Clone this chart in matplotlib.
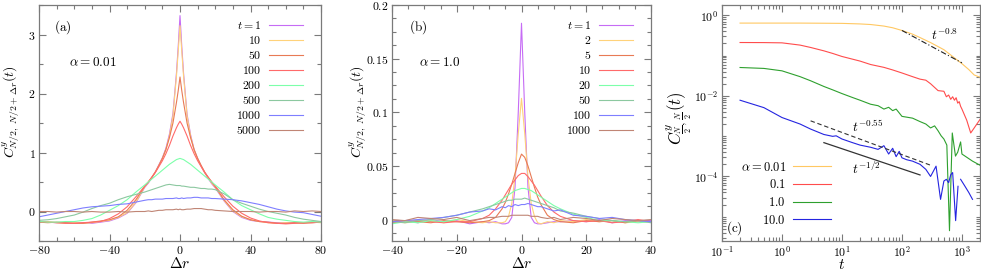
import numpy as np
import matplotlib
matplotlib.use("Agg")
import matplotlib.pyplot as plt
from matplotlib.ticker import FixedLocator, MultipleLocator, FuncFormatter, LogLocator, NullFormatter

plt.rcParams['mathtext.fontset'] = 'cm'
plt.rcParams['font.family'] = 'serif'
plt.rcParams['font.serif'] = ['DejaVu Serif']

# ---------------- panel (a): alpha = 0.01 ----------------
XA = [-80, -75, -70, -65, -60, -55, -50, -45, -40, -35, -30, -25, -20, -18, -16, -14, -12, -10, -8, -6,
      -4, -2, -1, 0, 1, 2, 4, 6, 8, 10, 12, 14, 16, 18, 20, 25, 30, 35, 40, 45, 50, 55, 60, 65, 70, 75, 80]
A_T = ["1", "10", "50", "100", "200", "500", "1000", "5000"]
A_1 = [-0.17, -0.18, -0.19, -0.19, -0.2, -0.19, -0.2, -0.18, -0.16, -0.11, -0.03, 0.15, 0.41, 0.48, 0.57, 0.67,
       0.79, 0.91, 1.07, 1.31, 1.66, 2.35, 2.8, 3.32, 2.8, 2.35, 1.65, 1.3, 1.05, 0.9, 0.77, 0.66, 0.56, 0.47,
       0.4, 0.18, 0.0, -0.1, -0.15, -0.17, -0.18, -0.19, -0.2, -0.19, -0.19, -0.18, -0.18]
A_10 = [-0.18, -0.17, -0.19, -0.2, -0.19, -0.2, -0.19, -0.17, -0.15, -0.1, -0.02, 0.16, 0.42, 0.49, 0.58, 0.67,
        0.78, 0.9, 1.05, 1.28, 1.62, 2.3, 2.72, 3.15, 2.72, 2.3, 1.62, 1.28, 1.04, 0.89, 0.77, 0.66, 0.57, 0.48,
        0.41, 0.19, 0.01, -0.09, -0.14, -0.17, -0.19, -0.2, -0.19, -0.2, -0.19, -0.18, -0.19]
A_50 = [-0.18, -0.19, -0.18, -0.19, -0.2, -0.2, -0.18, -0.16, -0.14, -0.09, 0.02, 0.2, 0.43, 0.5, 0.58, 0.67,
        0.78, 0.9, 1.05, 1.25, 1.5, 1.85, 2.05, 2.28, 2.05, 1.85, 1.5, 1.25, 1.05, 0.9, 0.78, 0.67, 0.58, 0.5,
        0.42, 0.2, 0.03, -0.08, -0.14, -0.17, -0.18, -0.2, -0.2, -0.19, -0.2, -0.19, -0.18]
A_100 = [-0.17, -0.18, -0.19, -0.2, -0.2, -0.19, -0.18, -0.17, -0.12, -0.04, 0.08, 0.25, 0.43, 0.5, 0.58, 0.66,
         0.76, 0.86, 0.98, 1.12, 1.28, 1.42, 1.48, 1.53, 1.48, 1.42, 1.28, 1.12, 0.98, 0.86, 0.76, 0.66, 0.58,
         0.5, 0.43, 0.25, 0.09, -0.03, -0.11, -0.16, -0.19, -0.2, -0.21, -0.2, -0.19, -0.19, -0.18]
A_200 = [-0.17, -0.18, -0.18, -0.17, -0.17, -0.15, -0.12, -0.06, 0.02, 0.1, 0.2, 0.33, 0.45, 0.5, 0.55, 0.6,
         0.65, 0.7, 0.75, 0.8, 0.84, 0.88, 0.89, 0.9, 0.89, 0.88, 0.84, 0.8, 0.75, 0.7, 0.65, 0.6, 0.55, 0.5,
         0.45, 0.33, 0.2, 0.1, 0.03, -0.04, -0.1, -0.13, -0.15, -0.17, -0.18, -0.17, -0.18]
A_500 = [-0.15, -0.14, -0.12, -0.09, -0.06, -0.01, 0.05, 0.1, 0.14, 0.2, 0.25, 0.29, 0.33, 0.35, 0.37, 0.39,
         0.41, 0.43, 0.45, 0.46, 0.45, 0.44, 0.44, 0.44, 0.43, 0.43, 0.42, 0.41, 0.41, 0.4, 0.39, 0.39, 0.38,
         0.38, 0.37, 0.3, 0.2, 0.14, 0.09, 0.04, 0.0, -0.03, -0.06, -0.1, -0.13, -0.15, -0.17]
A_1000 = [-0.09, -0.06, -0.03, 0.0, 0.03, 0.06, 0.08, 0.09, 0.1, 0.12, 0.13, 0.16, 0.19, 0.2, 0.2, 0.21, 0.21,
          0.21, 0.22, 0.22, 0.22, 0.23, 0.22, 0.22, 0.23, 0.22, 0.23, 0.23, 0.24, 0.24, 0.23, 0.23, 0.23, 0.22,
          0.22, 0.21, 0.2, 0.18, 0.15, 0.12, 0.08, 0.04, 0.01, -0.01, -0.02, -0.05, -0.08]
A_5000 = [0.0, 0.0, -0.01, 0.0, 0.0, -0.01, 0.0, -0.01, -0.01, 0.0, -0.01, 0.0, 0.0, 0.01, 0.0, 0.01, 0.02,
          0.02, 0.03, 0.03, 0.03, 0.04, 0.03, 0.04, 0.03, 0.03, 0.04, 0.04, 0.05, 0.05, 0.05, 0.04, 0.03,
          0.03, 0.02, 0.01, 0.0, 0.0, 0.0, -0.01, 0.0, 0.0, -0.01, 0.01, 0.0, 0.01, 0.0]

# ---------------- panel (b): alpha = 1.0 ----------------
XB = [-40, -36, -32, -28, -24, -20, -16, -12, -10, -8, -6, -5, -4, -3, -2, -1, 0, 1, 2, 3, 4, 5, 6, 8, 10,
      12, 16, 20, 24, 28, 32, 36, 40]
B_T = ["1", "2", "5", "10", "20", "50", "100", "1000"]
B_1 = [-0.002, -0.001, -0.003, 0.0, -0.002, -0.001, -0.004, -0.002, -0.003, -0.002, -0.004, -0.004, -0.003,
       0.002, 0.03, 0.1, 0.183, 0.1, 0.03, 0.002, -0.003, -0.004, -0.004, -0.003, -0.002, -0.002, -0.001,
       -0.002, 0.0, -0.003, -0.001, -0.002, -0.001]
B_2 = [-0.001, -0.003, -0.002, -0.001, -0.003, 0.0, -0.002, -0.003, -0.002, -0.003, -0.003, -0.002, 0.003,
       0.015, 0.04, 0.08, 0.113, 0.08, 0.04, 0.015, 0.003, -0.003, -0.004, -0.002, -0.003, -0.001, -0.002,
       0.0, -0.002, -0.001, -0.003, -0.002, -0.002]
B_5 = [-0.002, -0.001, -0.002, -0.003, -0.001, -0.002, -0.003, -0.002, -0.001, 0.002, 0.01, 0.016, 0.024,
       0.033, 0.043, 0.053, 0.061, 0.058, 0.05, 0.04, 0.03, 0.021, 0.014, 0.004, 0.0, -0.002, -0.003, -0.001,
       -0.002, -0.001, -0.003, -0.001, -0.002]
B_10 = [-0.003, -0.002, -0.001, -0.002, -0.003, -0.002, -0.002, 0.001, 0.004, 0.01, 0.018, 0.023, 0.028,
        0.033, 0.037, 0.041, 0.043, 0.043, 0.04, 0.036, 0.032, 0.027, 0.022, 0.013, 0.007, 0.003, -0.001,
        -0.002, -0.001, -0.003, -0.002, 0.0, -0.002]
B_20 = [-0.004, -0.002, -0.003, -0.001, -0.002, 0.0, 0.003, 0.008, 0.011, 0.015, 0.019, 0.021, 0.023, 0.025,
        0.027, 0.028, 0.029, 0.029, 0.028, 0.027, 0.025, 0.023, 0.021, 0.017, 0.013, 0.01, 0.005, 0.002,
        -0.001, -0.001, -0.002, -0.003, -0.002]
B_50 = [-0.002, -0.003, -0.001, 0.0, 0.002, 0.004, 0.007, 0.01, 0.012, 0.014, 0.016, 0.017, 0.018, 0.018,
        0.019, 0.019, 0.019, 0.02, 0.019, 0.018, 0.017, 0.016, 0.015, 0.013, 0.011, 0.008, 0.006, 0.003, 0.001,
        -0.001, -0.002, -0.001, -0.003]
B_100 = [-0.002, -0.001, 0.0, 0.001, 0.002, 0.004, 0.007, 0.008, 0.01, 0.009, 0.012, 0.011, 0.013, 0.012,
         0.014, 0.013, 0.014, 0.014, 0.015, 0.014, 0.013, 0.012, 0.012, 0.01, 0.008, 0.009, 0.004, 0.003,
         0.001, 0.002, 0.0, -0.001, -0.002]
B_1000 = [0.0, -0.001, 0.002, 0.001, 0.0, 0.002, -0.001, 0.001, 0.002, 0.002, 0.003, 0.003, 0.003, 0.004,
          0.004, 0.004, 0.004, 0.004, 0.004, 0.003, 0.003, 0.003, 0.002, 0.001, 0.002, 0.0, 0.002, 0.001,
          -0.001, 0.001, 0.0, -0.001, 0.0]

# ---------------- panel (c): C(t) at the centre ----------------
C_ALPHA = ["0.01", "0.1", "1.0", "10.0"]
T1 = [0.2, 0.5, 1, 2, 5, 10, 20, 30, 50, 70, 100, 150, 200, 300, 500, 700, 1000, 1300, 1600, 2000]
C1 = [0.64, 0.64, 0.64, 0.64, 0.635, 0.63, 0.61, 0.59, 0.54, 0.49, 0.42, 0.34, 0.28, 0.21, 0.14, 0.095,
      0.063, 0.045, 0.033, 0.029]
T2 = [0.2, 0.5, 1, 2, 3, 5, 7, 10, 20, 30, 50, 70, 100, 150, 200, 250, 300, 400, 500, 550, 600, 650, 700,
      750, 800, 850, 900, 950, 1000, 1200, 1400, 1600, 2000]
C2 = [0.211, 0.21, 0.207, 0.182, 0.159, 0.131, 0.113, 0.095, 0.073, 0.06, 0.051, 0.044, 0.037, 0.03, 0.026,
      0.0245, 0.02, 0.0135, 0.013, 0.0095, 0.0105, 0.0082, 0.0095, 0.0078, 0.009, 0.0066, 0.0072, 0.0055,
      0.0047, 0.0025, 0.0012, 0.0016, 0.0026]
T3 = [0.2, 0.5, 1, 2, 3, 5, 7, 10, 15, 20, 30, 40, 50, 60, 70, 80, 100, 150, 200, 250, 300, 350, 400, 450,
      500, 560, 620, 690, 780, 850, 950, 1000, 1200, 1500, 2000]
C3 = [0.0506, 0.048, 0.0418, 0.03, 0.0237, 0.0171, 0.0141, 0.0114, 0.0091, 0.0078, 0.0062, 0.0057, 0.0047,
      0.0052, 0.0043, 0.0047, 0.0031, 0.0028, 0.0023, 0.002, 0.0016, 0.0018, 0.00136, 0.00102, 0.00085,
      0.0006, 4.5e-6, 0.0012, 0.00032, 0.0004, 0.00072, 0.00036, 0.0003, 0.00024, 0.00019]
T4 = [0.2, 0.5, 1, 2, 3, 5, 7, 8, 10, 15, 20, 30, 40, 50, 60, 70, 80, 90, 100, 120, 150, 200, 250, 300, 370,
      440, 500, 550, 600, 650, 700, 785, 860, 900, 950, 1100, 1300, 1500]
C4 = [0.0078, 0.0051, 0.0029, 0.002, 0.0015, 0.0011, 0.00099, 0.00102, 0.00085, 0.00069, 0.0006, 0.00053,
      0.00047, 0.00058, 0.00036, 0.0005, 0.00031, 0.00042, 0.00029, 0.00026, 0.00024, 0.0002, 0.00015,
      0.0001, 0.00018, 2.7e-5, 7.7e-5, 8.5e-5, 7e-5, 0.00011, 0.000125, 8e-6, 5.7e-5, np.nan, 8.5e-5,
      6e-5, 4e-5, 2.7e-5]
# guide lines (power laws) : endpoints
G08_T = [100, 1000]
G08_C = [0.42, 0.066]
G055_T = [3, 300]
G055_C = [0.0024, 0.00019]
G05_T = [5, 200]
G05_C = [0.00069, 0.000109]

COLORS8 = ['#c66cf5', '#ffd27a', '#e87a55', '#ff6a6a', '#7dffaa', '#8cc8a0', '#7f7fff', '#c08575']
COLORS4 = ['#ffc862', '#ff4c4c', '#2ea02e', '#2424e0']
FRAME = '#7a7a7a'
FS = 8.5


def mt(s):
    return r'$\mathrm{' + s + '}$'


def style_axes(ax):
    for sp in ax.spines.values():
        sp.set_color(FRAME)
        sp.set_linewidth(0.9)
    ax.tick_params(which='both', direction='in', top=True, right=True, color=FRAME, labelsize=FS)
    ax.tick_params(which='major', length=5, width=0.8, pad=2.5)
    ax.tick_params(which='minor', length=2.6, width=0.8)


fig = plt.figure(figsize=(9.81, 2.73), dpi=100)
H = 273.0
W = 981.0
bot = 1 - 241 / H
hgt = 236 / H
ax_a = fig.add_axes([39 / W, bot, 282 / W, hgt])
ax_b = fig.add_axes([392 / W, bot, 259 / W, hgt])
ax_c = fig.add_axes([722 / W, bot, 258 / W, hgt])

ylab = r'$C^{y}_{N/2,\ N/2+\Delta r}(t)$'

# panel a
for ys, lab, col in zip([A_1, A_10, A_50, A_100, A_200, A_500, A_1000, A_5000], A_T, COLORS8):
    txt = r'$t=\mathrm{' + lab + '}$' if lab == A_T[0] else mt(lab)
    ax_a.plot(XA, ys, color=col, lw=0.8, label=txt)
ax_a.set_xlim(-80, 80)
ax_a.set_ylim(-0.5, 3.5)
ax_a.xaxis.set_major_locator(MultipleLocator(40))
ax_a.xaxis.set_minor_locator(MultipleLocator(10))
ax_a.yaxis.set_major_locator(MultipleLocator(1))
ax_a.yaxis.set_minor_locator(MultipleLocator(0.5))
ax_a.xaxis.set_major_formatter(FuncFormatter(lambda v, p: mt('%d' % v)))
ax_a.yaxis.set_major_formatter(FuncFormatter(lambda v, p: mt('%d' % v)))
style_axes(ax_a)
ax_a.set_xlabel(r'$\Delta r$', fontsize=11)
ax_a.xaxis.set_label_coords(0.5, -0.064)
ax_a.set_ylabel(ylab, fontsize=10)
ax_a.yaxis.set_label_coords(-0.06, 0.55)
ax_a.text(0.085, 0.907, r'$\mathrm{(a)}$', transform=ax_a.transAxes, fontsize=9.5, ha='center', va='center')
ax_a.text(0.19, 0.758, r'$\alpha=\mathrm{0.01}$', transform=ax_a.transAxes, fontsize=9.5, ha='center', va='center')
ax_a.legend(loc='upper right', bbox_to_anchor=(0.936, 0.94), frameon=False, markerfirst=False, fontsize=FS,
            handlelength=2.9, handletextpad=0.6, labelspacing=0.17, borderpad=0, borderaxespad=0)

# panel b
for ys, lab, col in zip([B_1, B_2, B_5, B_10, B_20, B_50, B_100, B_1000], B_T, COLORS8):
    txt = r'$t=\mathrm{' + lab + '}$' if lab == B_T[0] else mt(lab)
    ax_b.plot(XB, ys, color=col, lw=0.8, label=txt)
ax_b.set_xlim(-40, 40)
ax_b.set_ylim(-0.02, 0.2)
ax_b.xaxis.set_major_locator(MultipleLocator(20))
ax_b.xaxis.set_minor_locator(MultipleLocator(5))
ax_b.yaxis.set_major_locator(MultipleLocator(0.05))
ax_b.yaxis.set_minor_locator(MultipleLocator(0.0125))
ax_b.xaxis.set_major_formatter(FuncFormatter(lambda v, p: mt('%d' % v)))
ax_b.yaxis.set_major_formatter(FuncFormatter(lambda v, p: mt('%g' % round(v, 3))))
style_axes(ax_b)
ax_b.set_xlabel(r'$\Delta r$', fontsize=11)
ax_b.xaxis.set_label_coords(0.5, -0.064)
ax_b.set_ylabel(ylab, fontsize=10)
ax_b.yaxis.set_label_coords(-0.088, 0.55)
ax_b.text(0.10, 0.907, r'$\mathrm{(b)}$', transform=ax_b.transAxes, fontsize=9.5, ha='center', va='center')
ax_b.text(0.185, 0.758, r'$\alpha=\mathrm{1.0}$', transform=ax_b.transAxes, fontsize=9.5, ha='center', va='center')
ax_b.legend(loc='upper right', bbox_to_anchor=(0.93, 0.94), frameon=False, markerfirst=False, fontsize=FS,
            handlelength=2.9, handletextpad=0.6, labelspacing=0.17, borderpad=0, borderaxespad=0)

# panel c
for ts, cs, lab, col in zip([T1, T2, T3, T4], [C1, C2, C3, C4], C_ALPHA, COLORS4):
    txt = r'$\alpha=\mathrm{' + lab + '}$' if lab == C_ALPHA[0] else mt(lab)
    ax_c.plot(ts, cs, color=col, lw=0.8, label=txt)
ax_c.plot(G08_T, G08_C, color='#222222', lw=0.8, ls=(0, (5, 2, 1, 2)))
ax_c.plot(G055_T, G055_C, color='#333333', lw=0.8, ls=(0, (4, 2.5)))
ax_c.plot(G05_T, G05_C, color='#333333', lw=0.9)
ax_c.set_xscale('log')
ax_c.set_yscale('log')
ax_c.set_xlim(0.1, 2000)
ax_c.set_ylim(2.5e-6, 1.8)
ax_c.xaxis.set_major_locator(FixedLocator([0.1, 1, 10, 100, 1000]))
ax_c.xaxis.set_minor_locator(LogLocator(base=10, subs=np.arange(2, 10), numticks=20))
ax_c.yaxis.set_major_locator(FixedLocator([1e-4, 1e-2, 1]))
ax_c.yaxis.set_minor_locator(LogLocator(base=10, subs=np.arange(1, 10), numticks=20))
logfmt = FuncFormatter(lambda v, p: r'$\mathrm{10}^{\mathrm{%d}}$' % round(np.log10(v)))
ax_c.xaxis.set_major_formatter(logfmt)
ax_c.yaxis.set_major_formatter(logfmt)
ax_c.xaxis.set_minor_formatter(NullFormatter())
ax_c.yaxis.set_minor_formatter(NullFormatter())
style_axes(ax_c)
ax_c.set_xlabel(r'$t$', fontsize=11)
ax_c.xaxis.set_label_coords(0.465, -0.072)
ax_c.set_ylabel(r'$C^{y}_{\frac{N}{2},\frac{N}{2}}(t)$', fontsize=12)
ax_c.yaxis.set_label_coords(-0.11, 0.52)
ax_c.text(0.864, 0.873, r'$t^{\mathrm{-0.8}}$', transform=ax_c.transAxes, fontsize=9.5, ha='center', va='center')
ax_c.text(0.566, 0.483, r'$t^{\mathrm{-0.55}}$', transform=ax_c.transAxes, fontsize=9.5, ha='center', va='center')
ax_c.text(0.558, 0.305, r'$t^{\mathrm{-1/2}}$', transform=ax_c.transAxes, fontsize=9.5, ha='center', va='center')
ax_c.text(0.05, 0.055, r'$\mathrm{(c)}$', transform=ax_c.transAxes, fontsize=9.5, ha='center', va='center')
ax_c.legend(loc='lower right', bbox_to_anchor=(0.422, 0.06), frameon=False, markerfirst=False, fontsize=9,
            handlelength=3.0, handletextpad=0.6, labelspacing=0.38, borderpad=0, borderaxespad=0)

fig.savefig('out.png', dpi=100)
